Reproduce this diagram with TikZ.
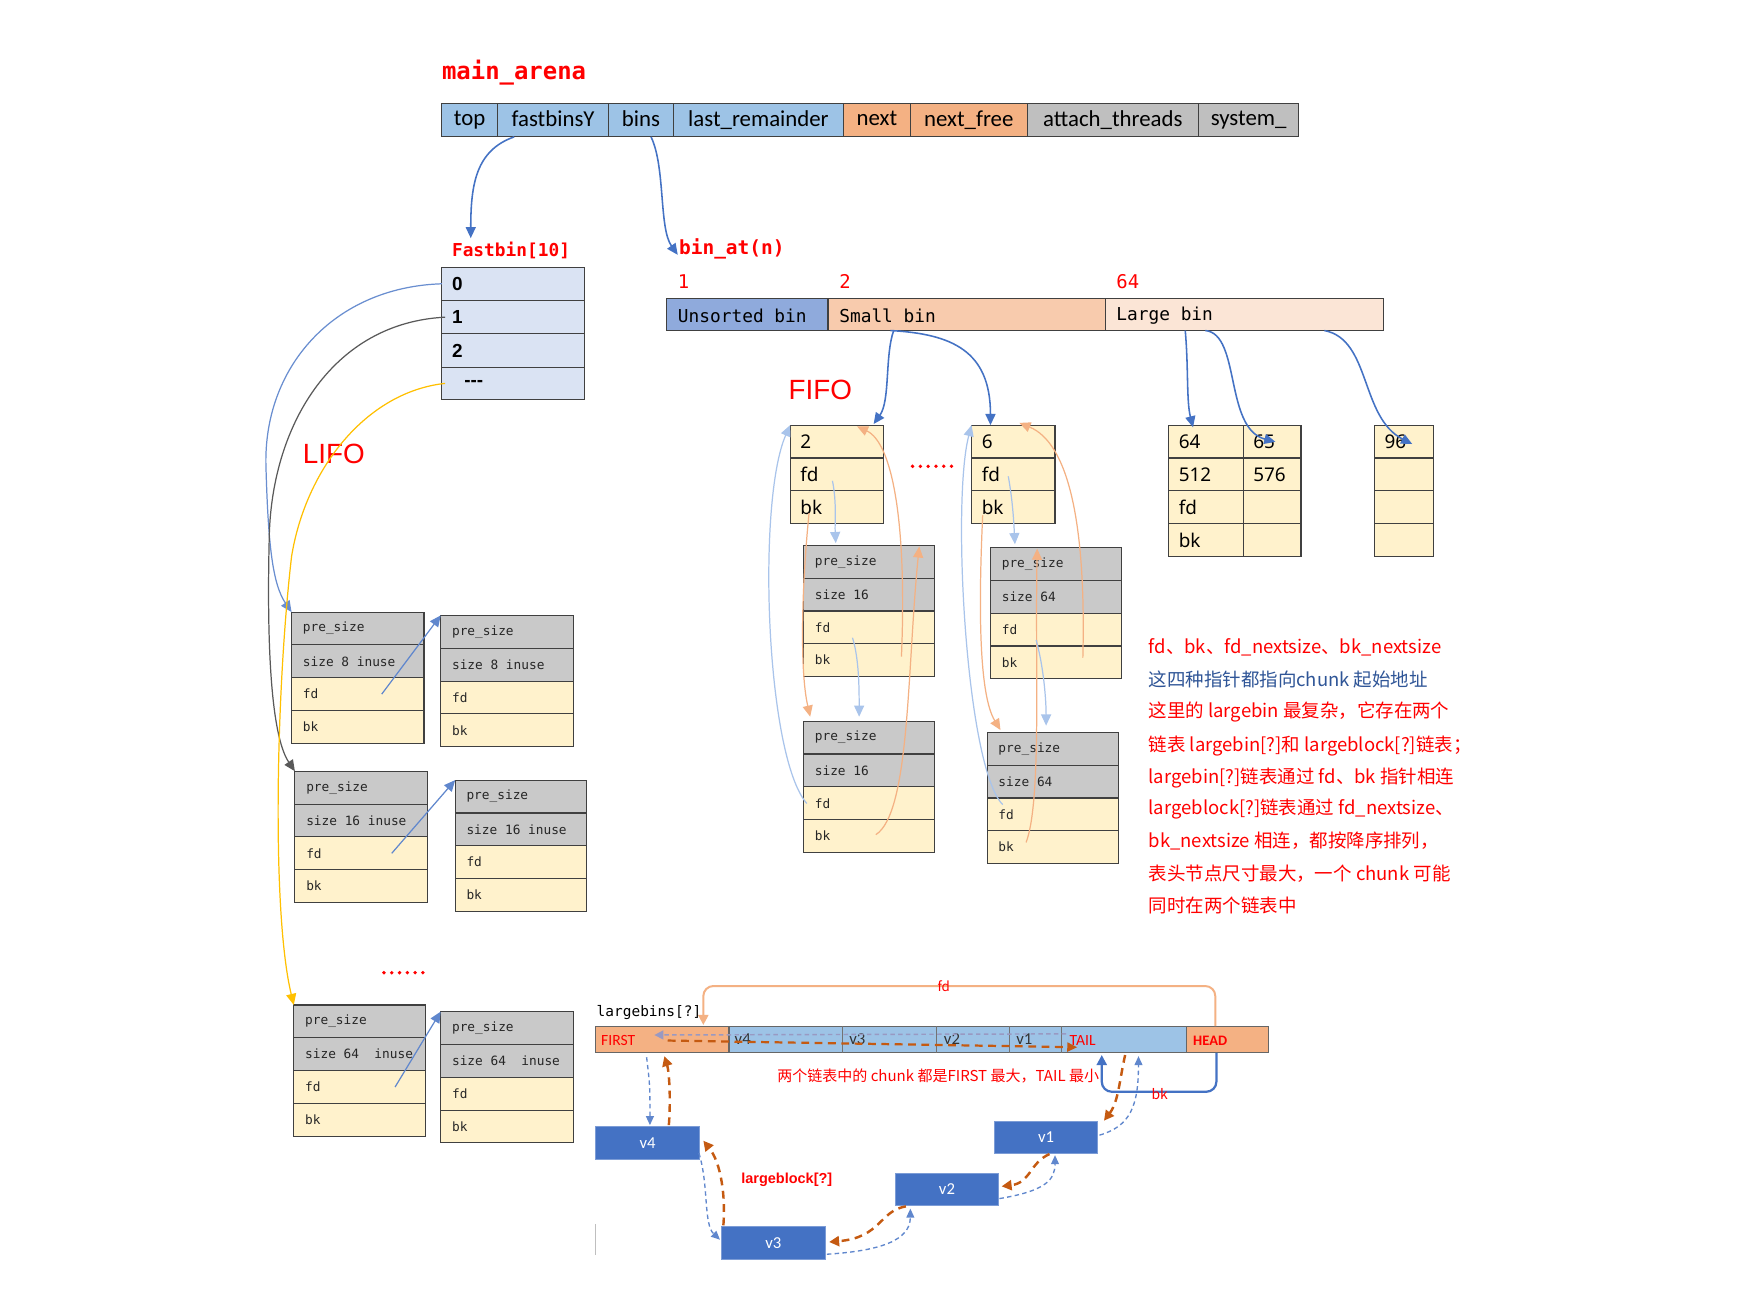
\documentclass[tikz,border=0pt]{standalone}
\usepackage{fontspec}
\setmainfont{Carlito}
\newfontfamily\monof{DejaVu Sans Mono}
\newfontfamily\cjkf{Noto Sans CJK SC}
\newfontfamily\arialf{Liberation Sans}
\newfontfamily\notof{Noto Sans}
\usetikzlibrary{arrows.meta,calc}
\definecolor{tblue}{HTML}{9DC3E6}
\definecolor{torange}{HTML}{F4B183}
\definecolor{tgray}{HTML}{BFBFBF}
\definecolor{fbfill}{HTML}{DAE3F3}
\definecolor{cuns}{HTML}{8FAADC}
\definecolor{csmall}{HTML}{F8CBAD}
\definecolor{clarge}{HTML}{FBE5D6}
\definecolor{cgray}{HTML}{C9C9C9}
\definecolor{cyel}{HTML}{FFF2CC}
\definecolor{cblue}{HTML}{4472C4}
\definecolor{clblue}{HTML}{A9C4EB}
\definecolor{clor}{HTML}{F4B183}
\definecolor{cred}{HTML}{FF0000}
\definecolor{cnavy}{HTML}{2F5597}
\definecolor{cbrown}{HTML}{C55A11}
\definecolor{cyellow}{HTML}{FFC000}
\definecolor{cdark}{HTML}{595959}
\definecolor{cbord}{HTML}{404040}
\newcommand\tcell[5]{\node[cellb, fill=#4, minimum width=#3pt, minimum height=30pt, text depth=3pt, font=\fontsize{20.5}{22}\selectfont] (#1) at (#2,93) {#5};}
\newcommand\chunkbox[5]{%
 \node[cellb, fill=cgray, minimum width=#4pt, minimum height=29.5pt] (#1-1) at (#2,#3) {};
 \node[cellb, fill=cgray, minimum width=#4pt, minimum height=29.5pt] (#1-2) at (#2,{#3+29.5}) {};
 \node[cellb, fill=cyel, minimum width=#4pt, minimum height=29.5pt] (#1-3) at (#2,{#3+59}) {};
 \node[cellb, fill=cyel, minimum width=#4pt, minimum height=29.5pt] (#1-4) at (#2,{#3+88.5}) {};
 \node[ctext] at ([xshift=10pt]#1-1.west) {pre\_size};
 \node[ctext] at ([xshift=10pt]#1-2.west) {#5};
 \node[ctext] at ([xshift=10pt]#1-3.west) {fd};
 \node[ctext] at ([xshift=10pt]#1-4.west) {bk};
}
\newcommand\headbox[5]{%
 \node[cellb, fill=cyel, minimum width=#4pt, minimum height=29.5pt] (#1-1) at (#2,#3) {};
 \node[cellb, fill=cyel, minimum width=#4pt, minimum height=29.5pt] (#1-2) at (#2,{#3+29.5}) {};
 \node[cellb, fill=cyel, minimum width=#4pt, minimum height=29.5pt] (#1-3) at (#2,{#3+59}) {};
 \node[htext] at ([xshift=9pt]#1-1.west) {#5};
 \node[htext] at ([xshift=9pt]#1-2.west) {fd};
 \node[htext] at ([xshift=9pt]#1-3.west) {bk};
}
\newcommand\lcol[8]{%
 \node[cellb, fill=cyel, minimum width=#4pt, minimum height=29.5pt] (#1-1) at (#2,#3) {};
 \node[cellb, fill=cyel, minimum width=#4pt, minimum height=29.5pt] (#1-2) at (#2,{#3+29.5}) {};
 \node[cellb, fill=cyel, minimum width=#4pt, minimum height=29.5pt] (#1-3) at (#2,{#3+59}) {};
 \node[cellb, fill=cyel, minimum width=#4pt, minimum height=29.5pt] (#1-4) at (#2,{#3+88.5}) {};
 \node[htext] at ([xshift=9pt]#1-1.west) {#5};
 \node[htext] at ([xshift=9pt]#1-2.west) {#6};
 \node[htext] at ([xshift=9pt]#1-3.west) {#7};
 \node[htext] at ([xshift=9pt]#1-4.west) {#8};
}
\begin{document}
\begin{tikzpicture}[x=1pt,y=-1pt,
 cellb/.style={draw=cbord, line width=1pt, inner sep=0pt, outer sep=0pt, anchor=north west},
 ctext/.style={anchor=west, inner sep=0pt, font=\monof\fontsize{11.5}{12}\selectfont, text=black!85},
 htext/.style={anchor=west, inner sep=0pt, font=\notof\fontsize{17}{18}\selectfont},
 lbl/.style={anchor=west, inner sep=0pt, text=cred, font=\monof\bfseries\fontsize{16}{17}\selectfont},
 bintext/.style={anchor=west, inner sep=0pt, font=\monof\fontsize{16}{17}\selectfont},
 fbtext/.style={anchor=west, inner sep=0pt, font=\arialf\bfseries\fontsize{17}{18}\selectfont},
 notetext/.style={anchor=west, inner sep=0pt, text=cred, font=\cjkf\fontsize{16.6}{17}\selectfont},
 tip/.style={-{Triangle[length=10pt,width=9pt]}},
 blueA/.style={draw=cblue, line width=1.4pt, tip},
 lbA/.style={draw=clblue, line width=1.1pt, -{Triangle[length=10pt,width=9pt]}},
 loA/.style={draw=clor, line width=1.1pt, -{Triangle[length=10pt,width=9pt]}},
 bdash/.style={draw=cblue!85!white, line width=1.2pt, dash pattern=on 4pt off 3pt, -{Triangle[length=8pt,width=7pt]}},
 odash/.style={draw=cbrown, line width=2.2pt, dash pattern=on 7pt off 5pt, -{Triangle[length=9pt,width=9pt]}},
 vblk/.style={fill=cblue, draw=cblue!70!white, line width=0.8pt, minimum width=93pt, minimum height=29pt, anchor=north west, text=white, font=\fontsize{15}{16}\selectfont, inner sep=0pt}
]
\useasboundingbox (0,0) rectangle (1568,1169);
\fill[white] (0,0) rectangle (1568,1169);

% ---------- main_arena ----------
\node[lbl, font=\monof\bfseries\fontsize{21.5}{22}\selectfont] (ma) at (397,65) {main\_arena};
\tcell{top}{397}{50}{tblue}{top}
\tcell{fastbins}{447}{100}{tblue}{fastbinsY}
\tcell{bins}{547}{58}{tblue}{bins}
\tcell{lastr}{605}{153}{tblue}{last\_remainder}
\tcell{next}{758}{60}{torange}{next}
\tcell{nextfree}{818}{105}{torange}{next\_free}
\tcell{attach}{923}{154}{tgray}{attach\_threads}
\tcell{system}{1077}{90}{tgray}{system\_}

% ---------- fastbin ----------
\node[lbl] (fbl) at (406,225) {Fastbin[10]};
\node[lbl, font=\monof\bfseries\fontsize{17.5}{18}\selectfont] (bal) at (610,224) {bin\_at(n)};
\draw[blueA] ([xshift=-35pt]fastbins.south) .. controls (428,135) and (423,165) .. (423,214);
\draw[blueA] ([xshift=9pt]bins.south) .. controls (598,150) and (592,205) .. (609,229);

\node[cellb, fill=fbfill, minimum width=128pt, minimum height=30pt] (fb0) at (397,240) {};
\node[cellb, fill=fbfill, minimum width=128pt, minimum height=30pt] (fb1) at (397,270) {};
\node[cellb, fill=fbfill, minimum width=128pt, minimum height=30pt] (fb2) at (397,300) {};
\node[cellb, fill=fbfill, minimum width=128pt, minimum height=29pt] (fb3) at (397,330) {};
\node[fbtext] at ([xshift=9pt]fb0.west) {0};
\node[fbtext] at ([xshift=9pt]fb1.west) {1};
\node[fbtext] at ([xshift=9pt]fb2.west) {2};
\node[fbtext] at ([xshift=20pt]fb3.west) {---};

\node[text=cred, font=\arialf\fontsize{25}{26}\selectfont, inner sep=0pt] (lifo) at (300,408) {LIFO};
\node[text=cred, font=\arialf\fontsize{25}{26}\selectfont, inner sep=0pt] (fifo) at (737,350) {FIFO};

% fastbin chunks
\chunkbox{A1}{262}{550}{119}{size 8 inuse}
\chunkbox{A2}{396}{553}{119}{size 8 inuse}
\chunkbox{B1}{265}{693}{119}{size 16 inuse}
\chunkbox{B2}{409}{701}{118}{size 16 inuse}
\chunkbox{C1}{264}{903}{118}{size 64\ \ inuse}
\chunkbox{C2}{396}{909}{119}{size 64\ \ inuse}
\foreach \i in {0,...,5} \fill[cred] (345+\i*7,874) circle (1.7pt);

\draw[draw=cblue!80, line width=1.1pt, tip] (fb0.west) .. controls (300,258) and (236,330) .. (239,420) .. controls (241,490) and (245,525) .. (A1-1.north west);
\draw[draw=cdark, line width=1.1pt, tip] ([xshift=3pt]fb1.west) .. controls (300,290) and (245,380) .. (242,480) .. controls (239,600) and (246,665) .. (B1-1.north west);
\draw[draw=cyellow, line width=1.1pt, tip] ([xshift=3pt]fb3.west) .. controls (330,352) and (275,420) .. (262,500) .. controls (248,620) and (244,820) .. (C1-1.north west);

\draw[draw=cblue!85, line width=1.1pt, tip] ([xshift=81pt]A1-3.west) -- (A2-1.north west);
\draw[draw=cblue!85, line width=1.1pt, tip] ([xshift=87pt]B1-3.west) -- (B2-1.north west);
\draw[draw=cblue!85, line width=1.1pt, tip] ([xshift=91pt]C1-3.west) -- (C2-1.north west);

% ---------- bins ----------
\node[text=cred, font=\monof\fontsize{17}{18}\selectfont, anchor=west, inner sep=0pt] (n1) at (609,253) {1};
\node[text=cred, font=\monof\fontsize{17}{18}\selectfont, anchor=west, inner sep=0pt] (n2) at (754,253) {2};
\node[text=cred, font=\monof\fontsize{17}{18}\selectfont, anchor=west, inner sep=0pt] (n64) at (1003,253) {64};
\node[cellb, fill=cuns, minimum width=145pt, minimum height=29pt] (uns) at (599,268) {};
\node[cellb, fill=csmall, minimum width=249pt, minimum height=29pt] (small) at (744,268) {};
\node[cellb, fill=clarge, minimum width=250pt, minimum height=29pt] (large) at (993,268) {};
\node[bintext] at ([xshift=10pt,yshift=-1pt]uns.west) {Unsorted bin};
\node[bintext] at ([xshift=10pt,yshift=-1pt]small.west) {Small bin};
\node[bintext] at ([xshift=10pt,yshift=-1pt]large.west) {Large bin};

% small bin lists
\headbox{S1}{710}{382}{84}{2}
\headbox{S2}{873}{382}{75}{6}
\foreach \i in {0,...,5} \fill[cred] (820+\i*7,419) circle (1.7pt);
\chunkbox{S1a}{722}{490}{118}{size 16}
\chunkbox{S1b}{722}{648}{118}{size 16}
\chunkbox{S2a}{890}{492}{118}{size 64}
\chunkbox{S2b}{887}{658}{118}{size 64}

\draw[blueA] ([xshift=59pt]small.south west) .. controls (795,320) and (800,360) .. (785,381);
\draw[blueA] ([xshift=56pt]small.south west) .. controls (855,300) and (890,315) .. (890,382);

\draw[lbA] (748,432) .. controls (752,452) and (750,470) .. (751,488);
\draw[lbA] (766,573) .. controls (772,592) and (772,620) .. (772,644);
\draw[lbA] (725,722) .. controls (688,680) and (680,450) .. (S1-1.north west);
\draw[loA] (727,461) .. controls (721,520) and (718,600) .. (728,644);
\draw[loA] (810,590) .. controls (815,470) and (802,398) .. (770,383);
\draw[loA] (787,750) .. controls (818,730) and (815,600) .. (826,491);

\draw[lbA] (906,428) .. controls (910,450) and (911,470) .. (912,489);
\draw[loA] (883,463) .. controls (879,550) and (880,625) .. (899,656);
\draw[loA] (973,591) .. controls (976,470) and (960,398) .. (916,380);
\draw[loA] (922,757) .. controls (936,720) and (930,600) .. (932,493);
\draw[lbA] (931,575) .. controls (938,600) and (940,630) .. (940,652);
\draw[lbA] (901,723) .. controls (868,690) and (855,450) .. (S2-1.north west);

% large bin
\lcol{L1a}{1050}{382}{67}{64}{512}{fd}{bk}
\lcol{L1b}{1117}{382}{52}{65}{576}{}{}
\lcol{L2}{1235}{382}{53}{96}{}{}{}
\draw[blueA] ([xshift=72pt]large.south west) .. controls (1068,330) and (1066,360) .. (1072,384);
\draw[blueA] ([xshift=90pt]large.south west) .. controls (1115,300) and (1100,385) .. (1146,397);
\draw[blueA] ([xshift=197pt]large.south west) .. controls (1232,305) and (1222,375) .. (1269,399);

% ---------- note ----------
\node[notetext] (t1) at (1032,582) {fd、bk、fd\_nextsize、bk\_nextsize};
\node[notetext, text=cnavy] (t2) at (1032,611) {这四种指针都指向chunk 起始地址};
\node[notetext] (t3) at (1032,640) {这里的 largebin 最复杂，它存在两个};
\node[notetext] (t4) at (1032,670) {链表 largebin[?]和 largeblock[?]链表；};
\node[notetext] (t5) at (1032,699) {largebin[?]链表通过 fd、bk 指针相连};
\node[notetext] (t6) at (1032,727) {largeblock[?]链表通过 fd\_nextsize、};
\node[notetext] (t7) at (1032,756) {bk\_nextsize 相连，都按降序排列，};
\node[notetext] (t8) at (1032,785) {表头节点尺寸最大，一个 chunk 可能};
\node[notetext] (t9) at (1032,814) {同时在两个链表中};

% ---------- largebins bottom ----------
\node[anchor=west, inner sep=0pt, font=\monof\fontsize{13}{14}\selectfont] (lbs) at (536,910) {largebins[?]};
\node[cellb, draw=black!60, fill=torange, minimum width=120pt, minimum height=24pt] (first) at (535,922) {};
\node[cellb, draw=black!60, fill=tblue, minimum width=411pt, minimum height=24pt] (mid) at (655,922) {};
\node[cellb, draw=black!60, fill=torange, minimum width=74pt, minimum height=24pt] (head) at (1066,922) {};
\foreach \xx in {757,841,907,954} \draw[black!55, line width=0.7pt] (\xx,922) -- (\xx,946);
\node[anchor=west, inner sep=0pt, text=cred, font=\fontsize{14}{15}\selectfont] at (540,935) {FIRST};
\node[anchor=west, inner sep=0pt, text=cred, font=\fontsize{14}{15}\selectfont] at (961,935) {TAIL};
\node[anchor=west, inner sep=0pt, text=cred, font=\bfseries\fontsize{13}{14}\selectfont] at (1072,935) {HEAD};
\node[anchor=west, inner sep=0pt, text=black!80, font=\fontsize{15}{16}\selectfont] at (660,934) {v4};
\node[anchor=west, inner sep=0pt, text=black!80, font=\fontsize{15}{16}\selectfont] at (763,934) {v3};
\node[anchor=west, inner sep=0pt, text=black!80, font=\fontsize{15}{16}\selectfont] at (848,934) {v2};
\node[anchor=west, inner sep=0pt, text=black!80, font=\fontsize{15}{16}\selectfont] at (913,934) {v1};

\draw[draw=black!60!blue!40, line width=1.3pt, dash pattern=on 4pt off 3pt, -{Triangle[length=8pt,width=8pt]}] (958,929) -- (588,930);
\draw[draw=cbrown, line width=2pt, dash pattern=on 7pt off 5pt, -{Triangle[length=9pt,width=8pt]}] (600,935) -- (968,941);

\draw[draw=clor, line width=1.8pt, rounded corners=9pt, -{Triangle[length=9pt,width=9pt]}] ([xshift=26pt]head.north west) -- (1092,886) -- (632,886) -- (632,921);
\node[text=cred, font=\cjkf\fontsize{12}{13}\selectfont, inner sep=0pt] (fdl) at (848,886) {fd};
\draw[draw=cblue, line width=2pt, rounded corners=9pt, -{Triangle[length=9pt,width=9pt]}] ([xshift=27pt]head.south west) -- (1093,981) -- (990,981) -- (990,948);
\node[text=cred, font=\cjkf\fontsize{12.5}{13}\selectfont, inner sep=0pt] (bkl) at (1042,983) {bk};
\node[text=cred, font=\cjkf\fontsize{13.5}{14}\selectfont, inner sep=0pt] (note2) at (843,967) {两个链表中的 chunk 都是FIRST 最大，TAIL 最小};

\node[vblk] (v4) at (535,1012) {v4};
\node[vblk] (v3) at (648,1102) {v3};
\node[vblk] (v2) at (804,1054) {v2};
\node[vblk] (v1) at (893,1007) {v1};
\node[text=cred, font=\arialf\bfseries\fontsize{13}{14}\selectfont, inner sep=0pt] (lbk) at (707,1060) {largeblock[?]};
\draw[black!25, line width=1pt] (535,1100) -- (535,1128);

\draw[bdash] (581,950) .. controls (584,975) .. (584,1011);
\draw[odash] (601,1011) .. controls (603,985) and (601,962) .. (597,949);
\draw[bdash] (628,1036) .. controls (637,1065) and (632,1100) .. (647,1114);
\draw[odash] (650,1101) .. controls (652,1075) and (648,1045) .. (632,1025);
\draw[odash] (814,1084) .. controls (790,1088) and (792,1112) .. (745,1116);
\draw[bdash] (743,1127) .. controls (790,1124) and (818,1115) .. (818,1086);
\draw[odash] (943,1037) .. controls (925,1045) and (926,1063) .. (900,1066);
\draw[bdash] (898,1077) .. controls (940,1070) and (948,1060) .. (948,1038);
\draw[odash] (1011,948) .. controls (1006,970) and (1005,990) .. (992,1007);
\draw[bdash] (988,1020) .. controls (1015,1012) and (1023,995) .. (1023,949);
\end{tikzpicture}
\end{document}
